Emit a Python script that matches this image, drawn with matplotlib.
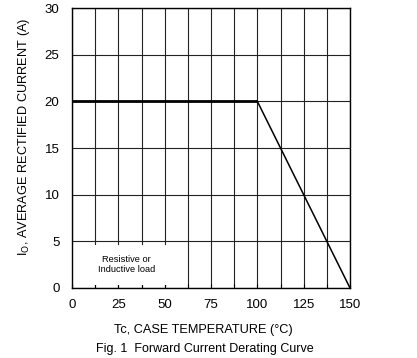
import numpy as np
import matplotlib
matplotlib.use("Agg")
import matplotlib.pyplot as plt
from matplotlib.patches import Rectangle

plt.rcParams['font.family'] = ['Liberation Sans', 'DejaVu Sans']

# derating curve: flat 20 A up to 100 C, then linear to 0 at 150 C
temp = [0, 100, 150]
current = [20, 20, 0]

x_ticks = [0, 25, 50, 75, 100, 125, 150]
y_ticks = [0, 5, 10, 15, 20, 25, 30]

fig = plt.figure(figsize=(4.17, 3.58), dpi=100)
ax = fig.add_axes([72/417, 1 - 288/358, 278/417, 280/358])

ax.set_xlim(0, 150)
ax.set_ylim(0, 30)
ax.set_xticks(x_ticks)
ax.set_xticks(np.arange(12.5, 150, 25), minor=True)
ax.set_yticks(y_ticks)

ax.grid(True, which='both', axis='x', color='#222222', lw=0.8)
ax.grid(True, which='major', axis='y', color='#222222', lw=0.8)
ax.set_axisbelow(True)

ax.tick_params(axis='x', which='both', direction='in', length=3, width=0.8,
               labelsize=9.5, pad=8, top=False)
ax.tick_params(axis='y', which='both', length=0, labelsize=9.5, pad=9)

for s in ax.spines.values():
    s.set_linewidth(1.0)
    s.set_color('black')

# white box behind the note
ax.add_patch(Rectangle((0.3, 0.35), 57.5, 4.3, facecolor='white',
                       edgecolor='none', zorder=1))
ax.text(29.5, 2.5, 'Resistive or\nInductive load', ha='center', va='center',
        fontsize=6.7, linespacing=1.2, zorder=2)

ax.plot(temp[:2], current[:2], color='black', lw=2.0, zorder=3,
        solid_capstyle='butt')
ax.plot(temp[1:], current[1:], color='black', lw=1.1, zorder=3)

ax.set_ylabel('I$_\\mathrm{O}$, AVERAGE RECTIFIED CURRENT (A)', fontsize=9.2)
ax.yaxis.set_label_coords(-0.145, 0.54)
fig.text(203/417, 1 - 330/358, 'Tc, CASE TEMPERATURE (\u00b0C)', ha='center',
         va='center', fontsize=9.2)
fig.text(205/417, 1 - 349/358, 'Fig. 1  Forward Current Derating Curve',
         ha='center', va='center', fontsize=9)

fig.savefig('out.png', dpi=100)
